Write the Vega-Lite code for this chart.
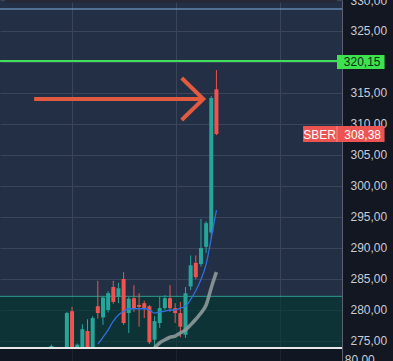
{
  "$schema": "https://vega.github.io/schema/vega-lite/v6.json",
  "width": 342,
  "height": 361,
  "autosize": {"type": "none"},
  "padding": {"left": 0, "top": 0, "right": 51, "bottom": 0},
  "background": "#131722",
  "config": {
    "view": {"fill": "#232f44", "stroke": null},
    "axis": {
      "labelFont": "Liberation Sans",
      "labelFontSize": 12,
      "labelColor": "#c8ccd4",
      "gridColor": "#3a455c",
      "gridWidth": 1,
      "ticks": false,
      "tickSize": 0,
      "labelOverlap": false,
      "labelBound": false
    },
    "axisY": {"labelOverlap": false, "tickCount": 12}
  },
  "datasets": {
    "candles": [
      {"i": -3, "o": 273.9, "h": 274.4, "l": 273.9, "c": 274.2},
      {"i": 0, "o": 273.9, "h": 279.7, "l": 273.9, "c": 279.5},
      {"i": 1, "o": 279.8, "h": 280.5, "l": 273.9, "c": 273.9},
      {"i": 2, "o": 273.9, "h": 274.6, "l": 273.9, "c": 274.4},
      {"i": 3, "o": 273.9, "h": 277.7, "l": 273.9, "c": 276.9},
      {"i": 4, "o": 276.6, "h": 278.5, "l": 273.9, "c": 273.9},
      {"i": 5, "o": 273.9, "h": 279.0, "l": 273.9, "c": 278.7},
      {"i": 6, "o": 280.6, "h": 284.7, "l": 278.6, "c": 279.5},
      {"i": 7, "o": 278.8, "h": 282.2, "l": 277.6, "c": 282.0},
      {"i": 8, "o": 280.0, "h": 283.0, "l": 279.6, "c": 282.7},
      {"i": 9, "o": 283.7, "h": 284.7, "l": 281.0, "c": 281.3},
      {"i": 10, "o": 282.1, "h": 284.4, "l": 281.1, "c": 283.5},
      {"i": 11, "o": 285.0, "h": 286.1, "l": 277.6, "c": 277.9},
      {"i": 12, "o": 279.5, "h": 282.1, "l": 276.3, "c": 281.8},
      {"i": 13, "o": 281.9, "h": 284.0, "l": 279.7, "c": 280.3},
      {"i": 14, "o": 280.8, "h": 282.7, "l": 277.3, "c": 280.5},
      {"i": 15, "o": 281.1, "h": 281.5, "l": 278.7, "c": 280.3},
      {"i": 16, "o": 280.6, "h": 280.8, "l": 274.5, "c": 274.8},
      {"i": 17, "o": 275.2, "h": 279.0, "l": 273.9, "c": 278.2},
      {"i": 18, "o": 277.9, "h": 282.1, "l": 277.1, "c": 280.3},
      {"i": 19, "o": 280.3, "h": 282.4, "l": 280.0, "c": 281.9},
      {"i": 20, "o": 281.9, "h": 284.0, "l": 279.7, "c": 280.3},
      {"i": 21, "o": 280.3, "h": 281.1, "l": 277.9, "c": 279.5},
      {"i": 22, "o": 279.5, "h": 281.3, "l": 275.6, "c": 277.3},
      {"i": 23, "o": 276.0, "h": 283.7, "l": 275.5, "c": 282.7},
      {"i": 24, "o": 283.8, "h": 288.8, "l": 283.2, "c": 287.2},
      {"i": 25, "o": 287.6, "h": 288.8, "l": 285.0, "c": 285.3},
      {"i": 26, "o": 287.4, "h": 294.7, "l": 287.0, "c": 290.0},
      {"i": 27, "o": 290.2, "h": 294.3, "l": 289.2, "c": 294.0},
      {"i": 28, "o": 292.5, "h": 314.5, "l": 291.5, "c": 314.2},
      {"i": 29, "o": 315.6, "h": 318.7, "l": 308.2, "c": 308.38}
    ],
    "fast": [
      {"i": 6, "v": 274.5}, {"i": 7, "v": 275.6}, {"i": 8, "v": 276.8}, {"i": 9, "v": 278.2},
      {"i": 10, "v": 279.2}, {"i": 11, "v": 279.8}, {"i": 12, "v": 280.2}, {"i": 13, "v": 280.2},
      {"i": 14, "v": 280.2}, {"i": 15, "v": 280.2}, {"i": 16, "v": 280.0}, {"i": 17, "v": 279.5},
      {"i": 18, "v": 279.7}, {"i": 19, "v": 279.8}, {"i": 20, "v": 280.0}, {"i": 21, "v": 280.0},
      {"i": 22, "v": 280.3}, {"i": 23, "v": 280.6}, {"i": 24, "v": 281.7}, {"i": 25, "v": 283.1},
      {"i": 26, "v": 284.9}, {"i": 27, "v": 287.4}, {"i": 28, "v": 291.6}, {"i": 29, "v": 296.1}
    ],
    "slow": [
      {"i": 17, "v": 273.9}, {"i": 18, "v": 274.7}, {"i": 19, "v": 275.2}, {"i": 20, "v": 275.6},
      {"i": 21, "v": 275.8}, {"i": 22, "v": 276.3}, {"i": 23, "v": 276.8}, {"i": 24, "v": 277.6},
      {"i": 25, "v": 278.5}, {"i": 26, "v": 279.5}, {"i": 27, "v": 280.8}, {"i": 28, "v": 283.6},
      {"i": 29, "v": 286.1}
    ],
    "arrow": [
      {"part": "shaft", "k": 0, "ax": -6.35, "ay": 314.03},
      {"part": "shaft", "k": 1, "ax": 26.0, "ay": 314.03},
      {"part": "head", "k": 0, "ax": 22.26, "ay": 317.42},
      {"part": "head", "k": 1, "ax": 26.45, "ay": 314.03},
      {"part": "head", "k": 2, "ax": 22.26, "ay": 310.65}
    ]
  },
  "data": {"values": [{}]},
  "layer": [
    {
      "mark": {"type": "rect", "color": "#262a36"},
      "encoding": {
        "x": {
          "datum": -12,
          "type": "quantitative",
          "title": null,
          "scale": {"domain": [-12, 52.38], "nice": false, "zero": false},
          "axis": {"values": [1, 21.13, 41.27], "grid": true, "labels": false, "domain": false, "ticks": false, "orient": "bottom", "zindex": 0}
        },
        "x2": {"datum": 52.38},
        "y": {
          "datum": 330,
          "type": "quantitative",
          "title": null,
          "scale": {"domain": [271.77, 330], "nice": false, "zero": false},
          "axis": {
            "orient": "right",
            "values": [275, 280, 285, 290, 295, 300, 305, 310, 315, 320, 325, 330],
            "labelExpr": "datum.value == 320 ? '' : replace(format(datum.value, '.2f'), '.', ',')",
            "grid": true,
            "domain": true,
            "domainColor": "#5d6270",
            "domainWidth": 1,
            "labelPadding": 8,
            "labelFlush": false,
            "labelOverlap": false,
            "zindex": 0
          }
        },
        "y2": {"datum": 329.55}
      }
    },
    {
      "mark": {"type": "rect", "color": "#02372e", "opacity": 0.62},
      "encoding": {
        "y": {"datum": 273.87, "type": "quantitative", "title": null},
        "y2": {"datum": 282.2}
      }
    },
    {
      "mark": {"type": "rule", "color": "#2a9d8f", "strokeWidth": 1},
      "encoding": {"y": {"datum": 282.2, "type": "quantitative", "title": null}}
    },
    {
      "mark": {"type": "rule", "color": "#7fb0e0", "strokeWidth": 1.2},
      "encoding": {"y": {"datum": 328.55, "type": "quantitative", "title": null}}
    },
    {
      "mark": {"type": "rule", "color": "#3ee05a", "strokeWidth": 2},
      "encoding": {"y": {"datum": 320.15, "type": "quantitative", "title": null}}
    },
    {
      "data": {"name": "candles"},
      "mark": {"type": "rule", "strokeWidth": 1},
      "encoding": {
        "x": {"field": "i", "type": "quantitative", "title": null},
        "y": {"field": "l", "type": "quantitative", "title": null},
        "y2": {"field": "h"},
        "color": {"condition": {"test": "datum.c >= datum.o", "value": "#26a69a"}, "value": "#ef5350"}
      }
    },
    {
      "data": {"name": "candles"},
      "mark": {"type": "bar", "size": 4},
      "encoding": {
        "x": {"field": "i", "type": "quantitative", "title": null},
        "y": {"field": "o", "type": "quantitative", "title": null},
        "y2": {"field": "c"},
        "color": {"condition": {"test": "datum.c >= datum.o", "value": "#26a69a"}, "value": "#ef5350"}
      }
    },
    {
      "data": {"name": "slow"},
      "mark": {"type": "line", "color": "#8d9a9b", "strokeWidth": 3.5, "opacity": 0.9, "interpolate": "monotone"},
      "encoding": {
        "x": {"field": "i", "type": "quantitative", "title": null},
        "y": {"field": "v", "type": "quantitative", "title": null}
      }
    },
    {
      "data": {"name": "fast"},
      "mark": {"type": "line", "color": "#2f6fe0", "strokeWidth": 1.3, "interpolate": "monotone"},
      "encoding": {
        "x": {"field": "i", "type": "quantitative", "title": null},
        "y": {"field": "v", "type": "quantitative", "title": null}
      }
    },
    {
      "data": {"name": "arrow"},
      "mark": {"type": "line", "color": "#e25a3f", "strokeWidth": 4, "strokeCap": "butt", "strokeJoin": "miter"},
      "encoding": {
        "x": {"field": "ax", "type": "quantitative", "title": null},
        "y": {"field": "ay", "type": "quantitative", "title": null},
        "detail": {"field": "part"},
        "order": {"field": "k"}
      }
    },
    {
      "mark": {"type": "rect", "color": "#000000", "opacity": 0.5},
      "encoding": {
        "y": {"datum": 271.77, "type": "quantitative", "title": null},
        "y2": {"datum": 273.87}
      }
    },
    {
      "mark": {"type": "rule", "color": "#e8e8e8", "strokeWidth": 2},
      "encoding": {"y": {"datum": 273.87, "type": "quantitative", "title": null}}
    },
    {
      "mark": {"type": "rect", "color": "#3ee24f"},
      "encoding": {
        "x": {"datum": 52.38, "type": "quantitative", "title": null},
        "x2": {"datum": 61.6},
        "y": {"datum": 321.13, "type": "quantitative", "title": null},
        "y2": {"datum": 318.87}
      }
    },
    {
      "mark": {"type": "text", "text": "320,15", "align": "left", "baseline": "middle", "font": "Liberation Sans", "fontSize": 12, "color": "#0d2e12"},
      "encoding": {
        "x": {"datum": 53.7, "type": "quantitative", "title": null},
        "y": {"datum": 320.0, "type": "quantitative", "title": null}
      }
    },
    {
      "mark": {"type": "rect", "color": "#ec5451"},
      "encoding": {
        "x": {"datum": 45.8, "type": "quantitative", "title": null},
        "x2": {"datum": 61.6},
        "y": {"datum": 309.68, "type": "quantitative", "title": null},
        "y2": {"datum": 307.1}
      }
    },
    {
      "mark": {"type": "rule", "color": "#f28a88", "strokeWidth": 1},
      "encoding": {
        "x": {"datum": 52.38, "type": "quantitative", "title": null},
        "y": {"datum": 309.68, "type": "quantitative", "title": null},
        "y2": {"datum": 307.1}
      }
    },
    {
      "mark": {"type": "text", "text": "SBER", "align": "center", "baseline": "middle", "font": "Liberation Sans", "fontSize": 12, "color": "#ffffff"},
      "encoding": {
        "x": {"datum": 49.0, "type": "quantitative", "title": null},
        "y": {"datum": 308.3, "type": "quantitative", "title": null}
      }
    },
    {
      "mark": {"type": "text", "text": "308,38", "align": "left", "baseline": "middle", "font": "Liberation Sans", "fontSize": 12, "color": "#ffffff"},
      "encoding": {
        "x": {"datum": 53.8, "type": "quantitative", "title": null},
        "y": {"datum": 308.3, "type": "quantitative", "title": null}
      }
    },
    {
      "mark": {"type": "text", "text": "80,00", "align": "left", "baseline": "middle", "font": "Liberation Sans", "fontSize": 12, "color": "#c8ccd4"},
      "encoding": {
        "x": {"datum": 53.88, "type": "quantitative", "title": null},
        "y": {"datum": 271.95, "type": "quantitative", "title": null}
      }
    }
  ]
}
